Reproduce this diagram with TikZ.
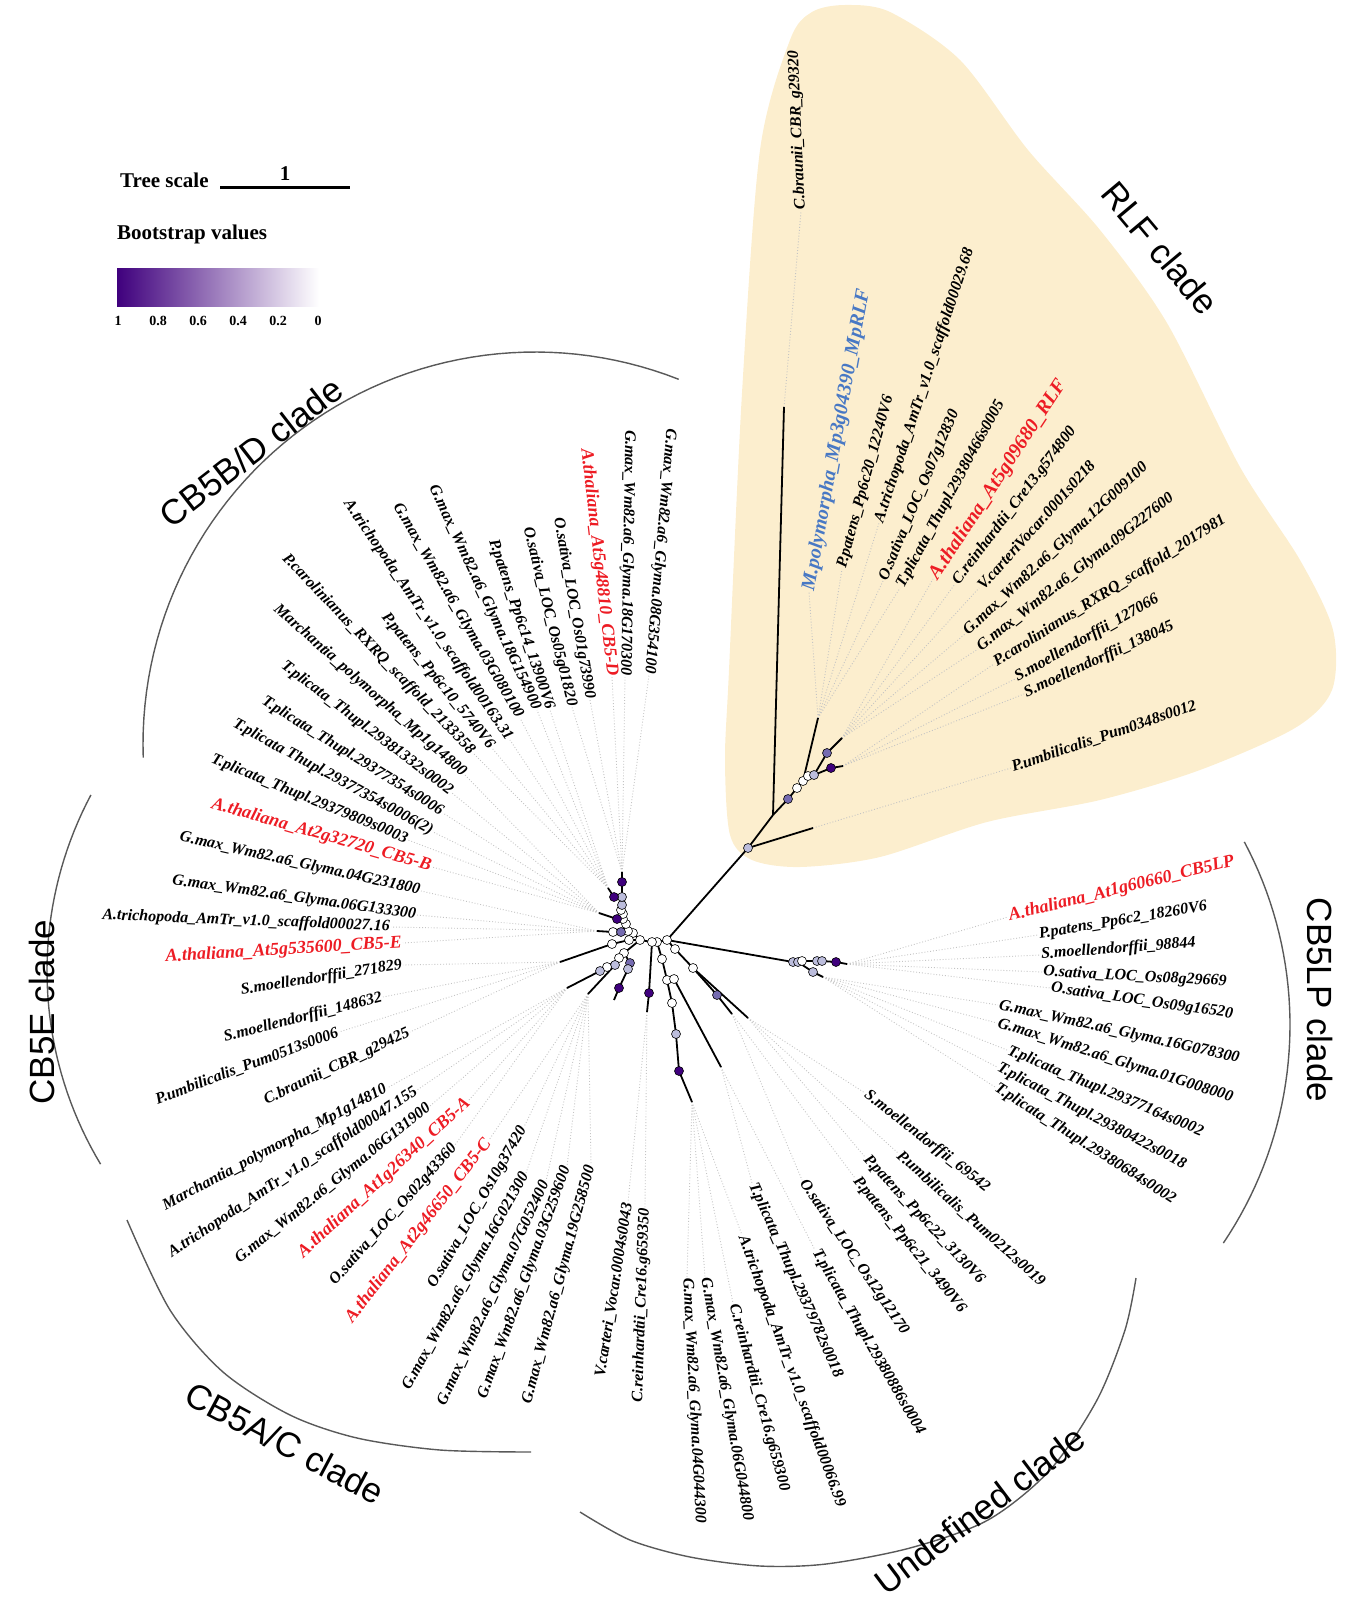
\documentclass[tikz,border=0pt]{standalone}
\usepackage{fontspec}
\setmainfont{Liberation Serif}
\newfontfamily\cladeFamily{Liberation Sans}
\usepackage{tikz}
\usetikzlibrary{positioning}
\definecolor{rlfYellow}{RGB}{252,238,206}
\definecolor{leafRed}{RGB}{237,28,36}
\definecolor{leafBlue}{RGB}{72,120,196}
\definecolor{bsDark}{RGB}{63,0,125}
\definecolor{bsMid}{RGB}{117,107,177}
\definecolor{bsLight}{RGB}{188,189,220}
\definecolor{leaderGray}{RGB}{196,196,196}
\tikzstyle{pixelGrid} = [x = 1pt, y = -1pt]
\tikzstyle{leafText} = [font=\fontsize{16}{16}\selectfont\bfseries\itshape, inner sep=1pt]
\tikzstyle{leafRedText} = [font=\fontsize{18}{18}\selectfont\bfseries\itshape, text=leafRed, inner sep=1pt]
\tikzstyle{leafBigRed} = [font=\fontsize{20}{20}\selectfont\bfseries\itshape, text=leafRed, inner sep=1pt]
\tikzstyle{leafBigBlue} = [font=\fontsize{20}{20}\selectfont\bfseries\itshape, text=leafBlue, inner sep=1pt]
\tikzstyle{leaderLine} = [color=leaderGray, dotted, line width=0.9pt]
\tikzstyle{branchLine} = [color=black, line width=1.8pt]
\tikzstyle{bsNode} = [circle, draw=black, line width=0.6pt, inner sep=0pt, minimum size=9pt]
\tikzstyle{cladeArc} = [color=black!65, line width=1.4pt]
\tikzstyle{cladeText} = [font=\cladeFamily\fontsize{35}{35}\selectfont]
\tikzstyle{legendText} = [font=\fontsize{21}{21}\selectfont\bfseries, inner sep=0pt]
\tikzstyle{tickText} = [font=\fontsize{14}{14}\selectfont\bfseries, inner sep=0pt]
\newcommand{\leafOut}[7]{\node [#7, anchor=west, rotate=#4] (#1) at (#2,#3) {#5}; \draw [leaderLine] (#6) -- (#1.west);}
\newcommand{\leafIn}[7]{\node [#7, anchor=east, rotate=#4] (#1) at (#2,#3) {#5}; \draw [leaderLine] (#6) -- (#1.east);}
\begin{document}
\begin{tikzpicture}[pixelGrid]
  \useasboundingbox (0,0) rectangle (1351,1600);
  % RLF background
  \fill [rlfYellow] plot [smooth cycle] coordinates {(790,40) (812,12) (845,5) (890,12) (960,60) (1028,150) (1100,230) (1167,323) (1240,467) (1300,560) (1333,630) (1332,690) (1295,728) (1200,770) (1100,800) (987,822) (880,857) (800,867) (752,860) (730,835) (725,760) (729,670) (742,393) (760,150)};
  % clade arcs
  \draw [cladeArc] plot [domain=68.5:182, samples=60] ({535+392*cos(\x)}, {744-392*sin(\x)});
  \draw [cladeArc] plot [domain=152:211, samples=40] ({422+375*cos(\x)}, {971-375*sin(\x)});
  \draw [cladeArc] plot [smooth] coordinates {(127,1220) (170,1310) (223,1372) (290,1415) (357,1438) (440,1450) (531,1452)};
  \draw [cladeArc] plot [smooth] coordinates {(580,1512) (630,1540) (690,1557) (760,1566) (826,1564) (910,1548) (988,1520) (1050,1470) (1097,1400) (1125,1330) (1136,1278)};
  \draw [cladeArc] plot [domain=-34:28, samples=40] ({900+390*cos(\x)}, {1025-390*sin(\x)});
  \node [cladeText, rotate=-50] (rlfClade) at (1160,248) {RLF clade};
  \node [cladeText, rotate=37.7] (bdClade) at (251,452) {CB5B/D clade};
  \node [cladeText, rotate=90] (eClade) at (42,1012) {CB5E clade};
  \node [cladeText, rotate=-28] (acClade) at (285,1443) {CB5A/C clade};
  \node [cladeText, rotate=37] (unClade) at (980,1510) {Undefined clade};
  \node [cladeText, rotate=-90] (lpClade) at (1320,1000) {CB5LP clade};
  % legend
  \node [legendText, anchor=west] (treeScale) at (120,180) {Tree scale};
  \coordinate (scaleLeft) at (220,187);
  \coordinate (scaleRight) at (350,187);
  \draw [line width=3pt] (scaleLeft) -- (scaleRight);
  \node [legendText] (scaleOne) at (285,174) {1};
  \node [legendText, anchor=west] (bootTitle) at (117,234) {Bootstrap values};
  \shade [left color=bsDark, right color=white] (117,268) rectangle (319,306);
  \foreach \tickLabel [count=\tickIndex from 0] in {1,0.8,0.6,0.4,0.2,0}
    \node [tickText] (tick\tickIndex) at ({118+40*\tickIndex},321) {\tickLabel};
  % tree points
  \foreach \nodeName/\px/\py in {R0/667/940, R1/657/942, R2/652/942,
      F1/748/848, F2/773/815, F3/788/799, F4/797/788, F5/803/781, F6/808/776, F7/814/775, F8/827/753, F9/831/768,
      tF1/813/828, tCB/784/407, tR1/818/718, tR2/842/738, tR3/843/766,
      Lc/640/940, L1/633/933, L2/628/931, L3/626/924, L4/623/919, L5/623/914, L6/621/910, L7/622/905, L8/622/897, L9/622/882,
      L10/614/897, L11/617/919, L12/613/932, L13/621/932, L14/629/940, L15/612/944, L16/624/953, L17/619/958,
      L18/615/965, L19/607/967, L20/600/971, L21/630/963, L22/628/969, L23/619/988,
      tL9/622/872, tL10/608/888, tL11/599/913, tL12/597/931, tL15/560/962, tL18/588/994, tL20/567/988, tL23/614/1000,
      B0/649/993, tB0/647/1012,
      U1/662/959, U2/667/980, U3/674/979, U4/672/1003, U5/676/1034, U6/679/1071, tU6/692/1102, tU3/721/1067,
      V1/675/949, V2/693/968, V3/717/995, tV3/732/1014, tV2/748/1018,
      P1/793/962, P2/798/962, P3/802/961, P4/817/961, P5/822/961, P6/836/962, P7/813/972, tP6/847/964, tP7/823/977}
    \coordinate (\nodeName) at (\px,\py);
  % RLF clade leaves
  \leafOut{rlfA}{801}{211}{92.5}{C.braunii\_CBR\_g29320}{tCB}{leafText}
  \leafOut{rlfB}{809}{592}{79.6}{M.polymorpha\_Mp3g04390\_MpRLF}{tR1}{leafBigBlue}
  \leafOut{rlfC}{842}{569}{74.7}{P.patens\_Pp6c20\_12240V6}{tR1}{leafText}
  \leafOut{rlfD}{879}{523}{71.7}{A.trichopoda\_AmTr\_v1.0\_scaffold00029.68}{tR1}{leafText}
  \leafOut{rlfE}{883}{581}{67}{O.sativa\_LOC\_Os07g12830}{tR1}{leafText}
  \leafOut{rlfF}{900}{588}{61.6}{T.plicata\_Thupl.29380466s0005}{tR1}{leafText}
  \leafOut{rlfG}{933}{579}{56.7}{A.thaliana\_At5g09680\_RLF}{tR2}{leafBigRed}
  \leafOut{rlfH}{955}{584}{52.7}{C.reinhardtii\_Cre13.g574800}{tR2}{leafText}
  \leafOut{rlfI}{979}{588}{48}{V.carteriVocar.0001s0218}{tR2}{leafText}
  \leafOut{rlfJ}{965}{634}{43}{G.max\_Wm82.a6\_Glyma.12G009100}{tR2}{leafText}
  \leafOut{rlfK}{978}{649}{38.2}{G.max\_Wm82.a6\_Glyma.09G227600}{tR2}{leafText}
  \leafOut{rlfL}{994}{664}{32.2}{P.carolinianus\_RXRQ\_scaffold\_2017981}{tR3}{leafText}
  \leafOut{rlfM}{1015}{679}{29.6}{S.moellendorffii\_127066}{tR3}{leafText}
  \leafOut{rlfN}{1024}{694}{24.7}{S.moellendorffii\_138045}{tR3}{leafText}
  \leafOut{rlfO}{1011}{768}{18.7}{P.umbilicalis\_Pum0348s0012}{tF1}{leafText}
  % CB5B/D clade leaves
  \leafIn{bdA}{649}{675}{-95}{G.max\_Wm82.a6\_Glyma.08G354100}{tL9}{leafText}
  \leafIn{bdB}{625}{677}{-91}{G.max\_Wm82.a6\_Glyma.18G170300}{tL9}{leafText}
  \leafIn{bdC}{612}{677}{-83.4}{A.thaliana\_At5g48810\_CB5-D}{tL9}{leafRedText}
  \leafIn{bdD}{590}{700}{-80}{O.sativa\_LOC\_Os01g73990}{tL9}{leafText}
  \leafIn{bdE}{572}{707}{-76}{O.sativa\_LOC\_Os05g01820}{tL9}{leafText}
  \leafIn{bdF}{550}{710}{-71.3}{P.patens\_Pp6c14\_13900V6}{tL10}{leafText}
  \leafIn{bdG}{537}{710}{-65}{G.max\_Wm82.a6\_Glyma.18G154900}{tL10}{leafText}
  \leafIn{bdH}{520}{718}{-60}{G.max\_Wm82.a6\_Glyma.03G080100}{tL10}{leafText}
  \leafIn{bdI}{510}{740}{-55.6}{A.trichopoda\_AmTr\_v1.0\_scaffold00163.31}{tL10}{leafText}
  \leafIn{bdJ}{492}{748}{-51}{P.patens\_Pp6c10\_5740V6}{tL10}{leafText}
  \leafIn{bdK}{473}{753}{-46.2}{P.carolinianus\_RXRQ\_scaffold\_2133358}{tL10}{leafText}
  \leafIn{bdL}{465}{775}{-41.5}{Marchantia\_polymorpha\_Mp1g14800}{tL11}{leafText}
  \leafIn{bdM}{452}{793}{-37.2}{T.plicata\_Thupl.29381332s0002}{tL11}{leafText}
  \leafIn{bdN}{443}{813}{-32}{T.plicata\_Thupl.29377354s0006}{tL11}{leafText}
  \leafIn{bdO}{433}{832}{-28.6}{T.plicata Thupl.29377354s0006(2)}{tL11}{leafText}
  \leafIn{bdP}{408}{840}{-22.4}{T.plicata\_Thupl.29379809s0003}{tL11}{leafText}
  \leafIn{bdQ}{432}{867}{-16}{A.thaliana\_At2g32720\_CB5-B}{tL11}{leafRedText}
  % CB5E clade leaves
  \leafIn{eA}{421}{891}{-12.6}{G.max\_Wm82.a6\_Glyma.04G231800}{tL12}{leafText}
  \leafIn{eB}{417}{915}{-8}{G.max\_Wm82.a6\_Glyma.06G133300}{tL12}{leafText}
  \leafIn{eC}{391}{927}{-2.3}{A.trichopoda\_AmTr\_v1.0\_scaffold00027.16}{tL12}{leafText}
  \leafIn{eD}{403}{943}{3.5}{A.thaliana\_At5g535600\_CB5-E}{tL12}{leafRedText}
  \leafIn{eE}{403}{965}{9}{S.moellendorffii\_271829}{tL15}{leafText}
  \leafIn{eF}{383}{997}{14.4}{S.moellendorffii\_148632}{tL15}{leafText}
  \leafIn{eG}{339}{1032}{20.4}{P.umbilicalis\_Pum0513s0006}{tL15}{leafText}
  \leafIn{eH}{410}{1032}{25.5}{C.braunii\_CBR\_g29425}{tL15}{leafText}
  % CB5A/C clade leaves
  \leafIn{acA}{387}{1088}{28}{Marchantia\_polymorpha\_Mp1g14810}{tL20}{leafText}
  \leafIn{acB}{417}{1090}{33.6}{A.trichopoda\_AmTr\_v1.0\_scaffold00047.155}{tL20}{leafText}
  \leafIn{acC}{430}{1106}{38.7}{G.max\_Wm82.a6\_Glyma.06G131900}{tL20}{leafText}
  \leafIn{acD}{469}{1100}{42.6}{A.thaliana\_At1g26340\_CB5-A}{tL20}{leafRedText}
  \leafIn{acE}{455}{1145}{48.5}{O.sativa\_LOC\_Os02g43360}{tL20}{leafText}
  \leafIn{acF}{489}{1140}{52.3}{A.thaliana\_At2g46650\_CB5-C}{tL18}{leafRedText}
  \leafIn{acG}{524}{1127}{60}{O.sativa\_LOC\_Os10g37420}{tL18}{leafText}
  \leafIn{acH}{526}{1173}{61}{G.max\_Wm82.a6\_Glyma.16G021300}{tL18}{leafText}
  \leafIn{acI}{546}{1181}{65}{G.max\_Wm82.a6\_Glyma.07G052400}{tL18}{leafText}
  \leafIn{acJ}{567}{1166}{70}{G.max\_Wm82.a6\_Glyma.03G259600}{tL18}{leafText}
  \leafIn{acK}{591}{1165}{75}{G.max\_Wm82.a6\_Glyma.19G258500}{tL18}{leafText}
  % undefined clade leaves
  \leafIn{unA}{628}{1202}{81}{V.carteri\_Vocar.0004s0043}{tB0}{leafText}
  \leafIn{unB}{645}{1207}{88}{C.reinhardtii\_Cre16.g659350}{tB0}{leafText}
  \leafOut{unC}{687}{1277}{-87}{G.max\_Wm82.a6\_Glyma.04G044300}{tU6}{leafText}
  \leafOut{unD}{705}{1277}{-80}{G.max\_Wm82.a6\_Glyma.06G044800}{tU6}{leafText}
  \leafOut{unE}{733}{1303}{-74.7}{C.reinhardtii\_Cre16.g659300}{tU6}{leafText}
  \leafOut{unF}{742}{1235}{-70}{A.trichopoda\_AmTr\_v1.0\_scaffold00066.99}{tU6}{leafText}
  \leafOut{unG}{752}{1183}{-66}{T.plicata\_Thupl.29379782s0018}{tU3}{leafText}
  \leafOut{unH}{815}{1250}{-60}{T.plicata\_Thupl.29380886s0004}{tU3}{leafText}
  \leafOut{unI}{802}{1180}{-56}{O.sativa\_LOC\_Os12g12170}{tV3}{leafText}
  \leafOut{unJ}{855}{1178}{-51}{P.patens\_Pp6c21\_3490V6}{tV3}{leafText}
  \leafOut{unK}{865}{1157}{-47}{P.patens\_Pp6c22\_3130V6}{tV2}{leafText}
  \leafOut{unL}{898}{1153}{-42}{P.umbilicalis\_Pum0212s0019}{tV2}{leafText}
  \leafOut{unM}{865}{1093}{-38}{S.moellendorffii\_69542}{tV2}{leafText}
  % CB5LP clade leaves
  \leafOut{lpA}{1008}{917}{13.8}{A.thaliana\_At1g60660\_CB5LP}{tP6}{leafRedText}
  \leafOut{lpB}{1038}{935}{9.4}{P.patens\_Pp6c2\_18260V6}{tP6}{leafText}
  \leafOut{lpC}{1040}{955}{4.4}{S.moellendorffii\_98844}{tP6}{leafText}
  \leafOut{lpD}{1042}{972}{-3.1}{O.sativa\_LOC\_Os08g29669}{tP6}{leafText}
  \leafOut{lpE}{1050}{988}{-8.2}{O.sativa\_LOC\_Os09g16520}{tP6}{leafText}
  \leafOut{lpF}{998}{1005}{-12.6}{G.max\_Wm82.a6\_Glyma.16G078300}{tP7}{leafText}
  \leafOut{lpG}{997}{1023}{-17.7}{G.max\_Wm82.a6\_Glyma.01G008000}{tP7}{leafText}
  \leafOut{lpH}{1007}{1050}{-22.9}{T.plicata\_Thupl.29377164s0002}{tP7}{leafText}
  \leafOut{lpI}{997}{1067}{-27.6}{T.plicata\_Thupl.29380422s0018}{tP7}{leafText}
  \leafOut{lpJ}{995}{1087}{-32.4}{T.plicata\_Thupl.29380684s0002}{tP7}{leafText}
  % branches
  \foreach \fromNode/\toNode in {R0/F1, F1/tF1, F1/F2, F2/tCB, F2/F3, F3/F4, F4/F5, F5/F6, F6/F7, F5/tR1, F7/F8, F8/tR2, F7/F9, F9/tR3,
      R0/R1, R1/R2, R2/Lc, Lc/L1, L1/L2, L2/L3, L3/L4, L4/L5, L5/L6, L6/L7, L7/L8, L8/L9, L9/tL9, L8/L10, L10/tL10,
      L4/L11, L11/tL11, L3/L13, L13/L12, L12/tL12, Lc/L14, L14/L15, L15/tL15, Lc/L16, L16/L17, L17/L18, L18/tL18,
      L17/L19, L19/L20, L20/tL20, L16/L21, L21/L22, L22/L23, L23/tL23,
      R2/B0, B0/tB0, R1/U1, U1/U2, U2/U4, U4/U5, U5/U6, U6/tU6, U2/U3, U3/tU3,
      R0/V1, V1/V2, V2/V3, V3/tV3, V2/tV2,
      R0/P1, P1/P2, P2/P3, P3/P4, P4/P5, P5/P6, P6/tP6, P2/P7, P7/tP7}
    \draw [branchLine] (\fromNode) -- (\toNode);
  % bootstrap dots
  \foreach \nodeName/\bsColor in {R0/white, R1/white, R2/white, F1/bsLight, F3/bsMid, F4/white, F5/white, F6/white, F7/bsLight, F8/bsMid, F9/bsDark,
      Lc/white, L1/white, L2/white, L3/white, L4/white, L5/white, L6/white, L7/bsLight, L8/bsLight, L9/bsDark, L10/bsDark, L11/bsDark,
      L12/white, L13/bsMid, L14/white, L15/white, L16/white, L17/white, L18/bsLight, L19/white, L20/bsLight, L21/bsMid, L22/bsLight, L23/bsDark,
      B0/bsDark, U1/white, U2/white, U3/white, U4/white, U5/bsLight, U6/bsDark, V1/white, V2/white, V3/bsMid,
      P1/bsLight, P2/bsLight, P3/white, P4/bsLight, P5/bsLight, P6/bsDark, P7/bsLight}
    \node [bsNode, fill=\bsColor] (\nodeName-bs) at (\nodeName) {};
\end{tikzpicture}
\end{document}
